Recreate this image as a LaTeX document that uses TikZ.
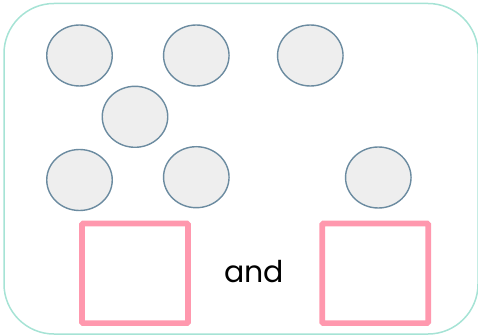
\documentclass[tikz,border=0pt]{standalone}
\usepackage{fontspec}
\setmainfont{Poppins}
\usetikzlibrary{shapes.geometric}
\definecolor{frame}{HTML}{A6E3D5}
\definecolor{ballfill}{HTML}{EEEEEE}
\definecolor{balldraw}{HTML}{6B8BA0}
\definecolor{boxpink}{HTML}{FF98AE}
\begin{document}
\begin{tikzpicture}[x=1pt,y=-1pt,
  ball/.style={draw=balldraw,fill=ballfill,line width=1.4pt,ellipse,minimum width=65.5pt,minimum height=61pt,inner sep=0pt},
  pinkbox/.style={draw=boxpink,line width=5.6pt,rounded corners=1pt,minimum width=106pt,minimum height=99.5pt,inner sep=0pt}]
\useasboundingbox (0,0) rectangle (478,336);
\begin{scope}
\clip (0,0) rectangle (478,336);
\draw[frame,line width=1.5pt,rounded corners=50pt] (4,3.5) rectangle (478,334);
\end{scope}
\node[ball] (b1) at (79.5,55.5) {};
\node[ball] (b2) at (196.3,55.5) {};
\node[ball] (b3) at (310.3,55.5) {};
\node[ball] (b4) at (135,116.8) {};
\node[ball] (b5) at (79.5,180) {};
\node[ball] (b6) at (196.3,177.2) {};
\node[ball] (b7) at (378.3,177.5) {};
\node[pinkbox] (s1) at (135,273.3) {};
\node[pinkbox] (s2) at (375.2,273.3) {};
\node[font=\fontsize{30}{36}\selectfont,inner sep=0pt,anchor=base] (t) at (254,282.3) {and};
\end{tikzpicture}
\end{document}
